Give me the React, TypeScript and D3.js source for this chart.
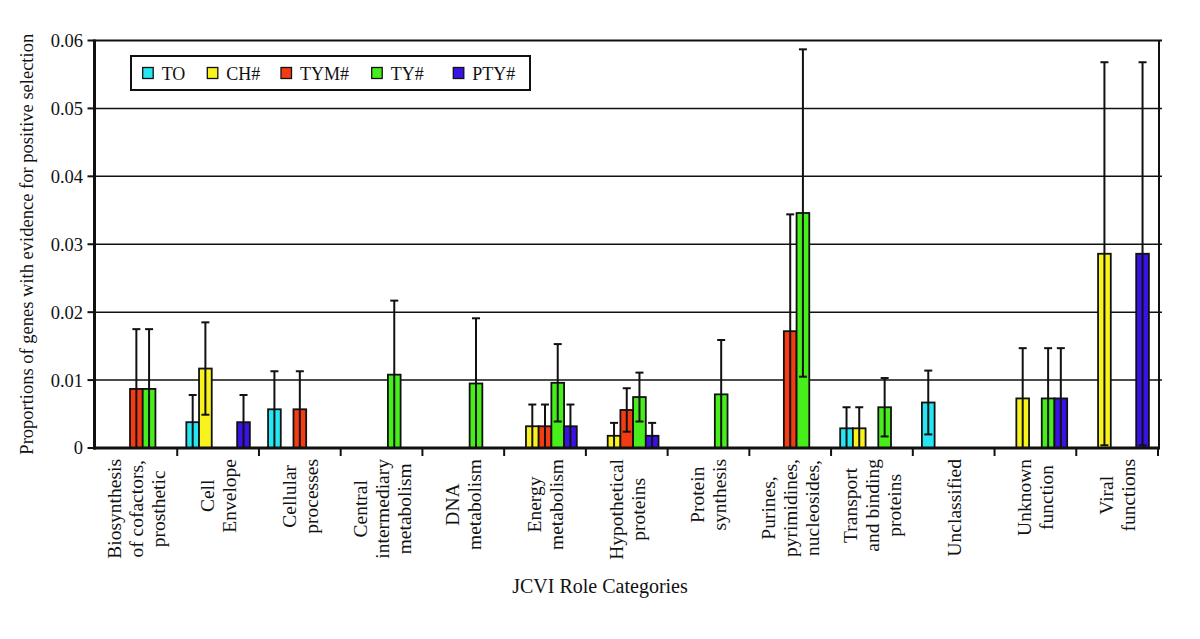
import React, { useRef, useEffect } from 'react'
import { select, scaleLinear, scaleBand } from 'd3'

// JCVI role categories (line breaks as drawn under the axis)
const categories = [
  'Biosynthesis\nof cofactors,\nprosthetic',
  'Cell\nEnvelope',
  'Cellular\nprocesses',
  'Central\nintermediary\nmetabolism',
  'DNA\nmetabolism',
  'Energy\nmetabolism',
  'Hypothetical\nproteins',
  'Protein\nsynthesis',
  'Purines,\npyrimidines,\nnucleosides,',
  'Transport\nand binding\nproteins',
  'Unclassified',
  'Unknown\nfunction',
  'Viral\nfunctions',
]

const seriesNames = ['TO', 'CH#', 'TYM#', 'TY#', 'PTY#']

// proportions, null = no bar
const toValues = [null, 0.0038, 0.0057, null, null, null, null, null, null, 0.0029, 0.0067, null, null]
const chValues = [null, 0.0117, null, null, null, 0.0032, 0.0018, null, null, 0.0029, null, 0.0073, 0.0286]
const tymValues = [0.0087, null, 0.0057, null, null, 0.0032, 0.0056, null, 0.0172, null, null, null, null]
const tyValues = [0.0087, null, null, 0.0108, 0.0095, 0.0096, 0.0075, 0.0079, 0.0346, 0.0060, null, 0.0073, null]
const ptyValues = [null, 0.0038, null, null, null, 0.0032, 0.0018, null, null, null, null, 0.0073, 0.0286]

// error bar half-widths
const toErrors = [null, 0.0040, 0.0056, null, null, null, null, null, null, 0.0031, 0.0047, null, null]
const chErrors = [null, 0.0068, null, null, null, 0.0032, 0.0019, null, null, 0.0031, null, 0.0074, 0.0282]
const tymErrors = [0.0088, null, 0.0056, null, null, 0.0032, 0.0032, null, 0.0172, null, null, null, null]
const tyErrors = [0.0088, null, null, 0.0109, 0.0096, 0.0057, 0.0036, 0.0080, 0.0241, 0.0043, null, 0.0074, null]
const ptyErrors = [null, 0.0040, null, null, null, 0.0032, 0.0019, null, null, null, null, 0.0074, 0.0282]

const yTicks = [0, 0.01, 0.02, 0.03, 0.04, 0.05, 0.06]
const yTickLabels = ['0', '0.01', '0.02', '0.03', '0.04', '0.05', '0.06']

const colors = ['#25e6f2', '#f8f31c', '#f43c14', '#47ee1c', '#3b12e6']

const FONT = '"Liberation Serif", "Times New Roman", serif'

function App() {
  const ref = useRef(null)

  useEffect(() => {
    const svg = select(ref.current)
    svg.selectAll('*').remove()

    const left = 95.5
    const right = 1159
    const top = 40.5
    const bottom = 448

    const values = [toValues, chValues, tymValues, tyValues, ptyValues]
    const errors = [toErrors, chErrors, tymErrors, tyErrors, ptyErrors]

    const yScale = scaleLinear().domain([0, 0.06]).range([bottom, top])
    const x0 = scaleBand().domain(categories).range([left, 1158])
    const x1 = scaleBand().domain(seriesNames).range([9.1, x0.bandwidth() - 9.1])

    svg.append('rect').attr('width', 1200).attr('height', 639).attr('fill', '#fff')

    // gridlines
    svg.append('g').selectAll('line').data(yTicks.slice(1)).enter().append('line')
      .attr('x1', left).attr('x2', right + 3)
      .attr('y1', d => yScale(d)).attr('y2', d => yScale(d))
      .attr('stroke', '#111').attr('stroke-width', d => d === 0.06 ? 2 : 1.5)

    // right border
    svg.append('line').attr('x1', right).attr('x2', right).attr('y1', top).attr('y2', bottom)
      .attr('stroke', '#111').attr('stroke-width', 2)

    // bars
    const bars = svg.append('g')
    seriesNames.forEach((s, si) => {
      categories.forEach((c, ci) => {
        const v = values[si][ci]
        if (v == null) return
        const x = x0(c) + x1(s)
        const w = x1.bandwidth()
        bars.append('rect')
          .attr('x', x).attr('y', yScale(v))
          .attr('width', w).attr('height', yScale(0) - yScale(v))
          .attr('fill', colors[si]).attr('stroke', '#111').attr('stroke-width', 1.8)
      })
    })

    // error bars
    const errs = svg.append('g').attr('stroke', '#111').attr('stroke-width', 2)
    seriesNames.forEach((s, si) => {
      categories.forEach((c, ci) => {
        const v = values[si][ci]
        const e = errors[si][ci]
        if (v == null || e == null) return
        const cx = x0(c) + x1(s) + x1.bandwidth() / 2
        const lo = Math.max(v - e, 0)
        const hi = v + e
        errs.append('line').attr('x1', cx).attr('x2', cx).attr('y1', yScale(lo)).attr('y2', yScale(hi))
        errs.append('line').attr('x1', cx - 4).attr('x2', cx + 4).attr('y1', yScale(hi)).attr('y2', yScale(hi))
        if (lo > 0.0002) {
          errs.append('line').attr('x1', cx - 4).attr('x2', cx + 4).attr('y1', yScale(lo)).attr('y2', yScale(lo))
        }
      })
    })

    // y axis
    svg.append('line').attr('x1', left - 1).attr('x2', left - 1).attr('y1', top - 1).attr('y2', bottom + 1.5)
      .attr('stroke', '#111').attr('stroke-width', 3)
    svg.append('g').selectAll('line').data(yTicks).enter().append('line')
      .attr('x1', left - 8).attr('x2', left).attr('y1', d => yScale(d)).attr('y2', d => yScale(d))
      .attr('stroke', '#111').attr('stroke-width', 2)
    svg.append('g').selectAll('text').data(yTicks).enter().append('text')
      .attr('x', 83).attr('y', d => yScale(d)).attr('dy', '0.35em')
      .attr('text-anchor', 'end').attr('font-family', FONT).attr('font-size', 18.5).attr('fill', '#111')
      .text((d, i) => yTickLabels[i])

    // x axis
    svg.append('line').attr('x1', left - 2.5).attr('x2', right + 1).attr('y1', bottom).attr('y2', bottom)
      .attr('stroke', '#111').attr('stroke-width', 3)
    const tickXs = categories.map(c => x0(c) + x0.bandwidth())
    svg.append('g').selectAll('line').data(tickXs).enter().append('line')
      .attr('x1', d => d).attr('x2', d => d).attr('y1', bottom).attr('y2', bottom + 8)
      .attr('stroke', '#111').attr('stroke-width', 2)

    // category labels
    categories.forEach(c => {
      const lines = c.split('\n')
      const cx = x0(c) + x0.bandwidth() / 2
      const g = svg.append('g')
      const texts = lines.map((ln, i) =>
        g.append('text').attr('font-family', FONT).attr('font-size', 19.5).attr('fill', '#111')
          .attr('text-anchor', 'middle').text(ln))
      const maxW = Math.max(...texts.map(t => t.node().getComputedTextLength()))
      const cy = 459 + maxW / 2
      texts.forEach((t, i) => {
        const bx = cx + (i - (lines.length - 1) / 2) * 22 + 7
        t.attr('transform', `translate(${bx},${cy}) rotate(-90)`)
      })
    })

    // axis titles
    svg.append('text').attr('x', 600).attr('y', 592.5).attr('text-anchor', 'middle')
      .attr('font-family', FONT).attr('font-size', 20).attr('fill', '#111')
      .text('JCVI Role Categories')
    svg.append('text').attr('transform', `translate(33,${(top + bottom) / 2}) rotate(-90)`)
      .attr('text-anchor', 'middle').attr('font-family', FONT).attr('font-size', 18.5).attr('fill', '#111')
      .text('Proportions of genes with evidence for positive selection')

    // legend
    const legendX = [142.7, 207.3, 281, 371.7, 453.3]
    svg.append('rect').attr('x', 131).attr('y', 56).attr('width', 399).attr('height', 34)
      .attr('fill', '#fff').attr('stroke', '#111').attr('stroke-width', 2)
    seriesNames.forEach((s, i) => {
      svg.append('rect').attr('x', legendX[i]).attr('y', 67.5).attr('width', 10.5).attr('height', 11)
        .attr('fill', colors[i]).attr('stroke', '#111').attr('stroke-width', 1.3)
      svg.append('text').attr('x', legendX[i] + 19).attr('y', 79.5)
        .attr('font-family', FONT).attr('font-size', 18).attr('fill', '#111').text(s)
    })
  }, [])

  return (
    <div style={{ position: 'absolute', left: 0, top: 0 }}>
      <svg ref={ref} width={1200} height={639} style={{ display: 'block' }}></svg>
    </div>
  )
}

export default App
